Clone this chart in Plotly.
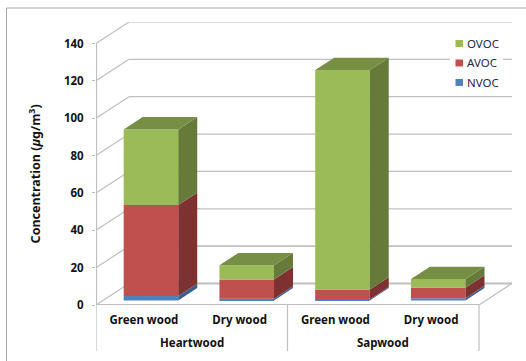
import plotly.graph_objects as go

# Chart values (µg/m³)
groups = ["Heartwood", "Sapwood"]
categories = ["Green wood", "Dry wood", "Green wood", "Dry wood"]
nvoc = [2.3, 0.9, 0.5, 1.2]
avoc = [48.7, 10.3, 5.3, 5.6]
ovoc = [40.5, 7.6, 117.5, 4.6]
y_ticks = [0, 20, 40, 60, 80, 100, 120, 140]

series = [
    ("NVOC", nvoc, "#4F81BD", "#3A6090", "#43709F"),
    ("AVOC", avoc, "#C0504D", "#7D3231", "#A04340"),
    ("OVOC", ovoc, "#9BBB59", "#667A3A", "#768F45"),
]

# Oblique projection of the floor depth, in axis units
DEPTH_X = 0.3446
DEPTH_Y = 11.5
BAR_WIDTH = 0.57
BAR_DEPTH = 0.575
BAR_INSET = 0.215
GRID = "#BFBFBF"
FONT = "Noto Sans"
PLOT_W = 416.0
PLOT_H = 283.2
PLOT_TOP = 21.5
PLOT_LEFT = 96.0

x_max = len(categories) + DEPTH_X
y_max = y_ticks[-1] + DEPTH_Y
centers = [i + 0.5 + BAR_INSET * DEPTH_X for i in range(len(categories))]
lift = BAR_INSET * DEPTH_Y
dx = BAR_DEPTH * DEPTH_X
dy = BAR_DEPTH * DEPTH_Y


def paper_x(px):
    return (px - PLOT_LEFT) / PLOT_W


def paper_y(px):
    return 1 - (px - PLOT_TOP) / PLOT_H


fig = go.Figure()
bottoms = [0.0] * len(categories)

for name, values, front, side, top in series:
    # Front faces
    fig.add_trace(go.Bar(
        x=centers, y=values, base=[b + lift for b in bottoms], width=BAR_WIDTH,
        name=name, marker=dict(color=front, line_width=0), showlegend=False,
    ))
    # Right-hand faces
    for c, b, v in zip(centers, bottoms, values):
        r = c + BAR_WIDTH / 2
        y0, y1 = b + lift, b + v + lift
        fig.add_trace(go.Scatter(
            x=[r, r + dx, r + dx, r, r], y=[y0, y0 + dy, y1 + dy, y1, y0],
            mode="lines", fill="toself", fillcolor=side, line=dict(width=0),
            showlegend=False, hoverinfo="skip",
        ))
    bottoms = [b + v for b, v in zip(bottoms, values)]

# Top faces of the stacks, in the colour of the uppermost series
for c, total in zip(centers, bottoms):
    l, r = c - BAR_WIDTH / 2, c + BAR_WIDTH / 2
    y0 = total + lift
    fig.add_trace(go.Scatter(
        x=[l, r, r + dx, l + dx, l], y=[y0, y0, y0 + dy, y0 + dy, y0],
        mode="lines", fill="toself", fillcolor=series[-1][4], line=dict(width=0),
        showlegend=False, hoverinfo="skip",
    ))

# Floor and back-wall rules sit underneath the bars
shapes = []


def rule(x0, y0, x1, y1, width=1.2, yref="y", color=GRID):
    shapes.append(dict(type="line", layer="below", xref="x", yref=yref,
                       x0=x0, y0=y0, x1=x1, y1=y1, line=dict(color=color, width=width)))


for t in y_ticks:
    w = 1.8 if t in (0, 20) else 1.2
    rule(0, t, DEPTH_X, t + DEPTH_Y, 1.2)
    rule(DEPTH_X, t + DEPTH_Y, x_max, t + DEPTH_Y, w)
rule(0, 0, 4, 0, 2)
rule(0, 0, 0, y_ticks[-1], 2.2)
rule(4, 0, x_max, DEPTH_Y, 1.2)
for x in (0, 2, 4):
    rule(x, 0, x, -46 / PLOT_H, 1.2, yref="paper")

# Outer chart frame, left and top edges
shapes.append(dict(type="line", xref="paper", yref="paper",
                   x0=paper_x(6.5), x1=paper_x(526), y0=paper_y(7.5), y1=paper_y(7.5),
                   line=dict(color="#A6A6A6", width=1)))
shapes.append(dict(type="line", xref="paper", yref="paper",
                   x0=paper_x(6.5), x1=paper_x(6.5), y0=paper_y(7.5), y1=paper_y(361),
                   line=dict(color="#A6A6A6", width=1)))

annotations = [
    dict(text=f"<b>{g}</b>", x=x, xref="x", y=paper_y(342.7), yref="paper", showarrow=False,
         xanchor="center", yanchor="middle", font=dict(family=FONT, size=11.5, color="#111"))
    for g, x in zip(groups, (1, 3))
]
annotations.append(dict(
    text="<b>Concentration (<i>µ</i>g/m<sup>3</sup>)</b>", textangle=-90,
    xref="paper", yref="paper", x=paper_x(35), y=paper_y(174),
    showarrow=False, xanchor="center", yanchor="middle",
    font=dict(family=FONT, size=12.5, color="#111"),
))

# Legend panel: white backing, square swatches and labels, top entry first
shapes.append(dict(type="rect", xref="paper", yref="paper",
                   x0=paper_x(450), x1=paper_x(503), y0=paper_y(33), y1=paper_y(92),
                   fillcolor="white", line_width=0))
for (name, values, front, side, top), row_y in zip(reversed(series), (43, 62.5, 82)):
    shapes.append(dict(type="rect", xref="paper", yref="paper",
                       x0=paper_x(455.5), x1=paper_x(463), y0=paper_y(row_y - 3.5),
                       y1=paper_y(row_y + 3.5), fillcolor=front, line_width=0))
    annotations.append(dict(
        text=name, xref="paper", yref="paper", x=paper_x(467), y=paper_y(row_y),
        showarrow=False, xanchor="left", yanchor="middle", xshift=-2,
        font=dict(family=FONT, size=11.5, color="#1F2A44"),
    ))

fig.update_layout(
    width=526, height=361,
    margin=dict(l=PLOT_LEFT, r=526 - PLOT_LEFT - PLOT_W, t=PLOT_TOP,
                b=361 - PLOT_TOP - PLOT_H, autoexpand=False),
    paper_bgcolor="white", plot_bgcolor="white",
    barmode="overlay", shapes=shapes, annotations=annotations,
    showlegend=False,
    font=dict(family=FONT, size=11, color="#111"),
    xaxis=dict(
        range=[0, x_max], showgrid=False, zeroline=False, showline=False,
        tickmode="array", tickvals=[i + 0.5 for i in range(len(categories))],
        ticktext=[f"<b>{c}</b>" for c in categories], ticks="", ticklabelstandoff=6,
        tickfont=dict(family=FONT, size=11.5, color="#111"),
    ),
    yaxis=dict(
        range=[0, y_max], showgrid=False, zeroline=False, showline=False,
        tickmode="array", tickvals=y_ticks, ticktext=[f"<b>{t}</b>" for t in y_ticks],
        ticks="outside", ticklen=3, tickcolor=GRID, tickwidth=1, ticklabelstandoff=6,
        tickfont=dict(family=FONT, size=11.5, color="#111"),
    ),
)

fig.write_html("out.html")
